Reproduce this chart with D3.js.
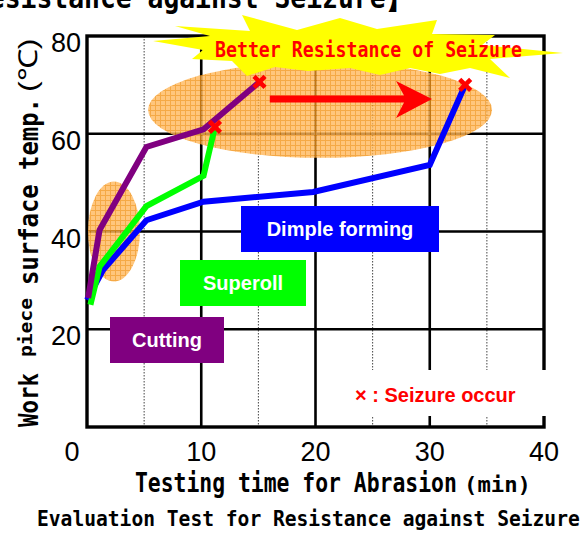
<!DOCTYPE html>
<html>
<head>
<meta charset="utf-8">
<script src="https://cdn.jsdelivr.net/npm/d3@7"></script>
<style>
  body { margin: 0; background: #fff; }
  svg { display: block; }
</style>
</head>
<body>
<div class="chart"></div>
<script>
// values
const xTicks = [0, 10, 20, 30, 40];
const yTicks = [20, 40, 60, 80];
const xMinor = [5, 15, 25, 35];

const cuttingTime = [0.1, 1.1, 5.2, 10.2, 15.1];
const cuttingTemp = [26.4, 40.3, 57.3, 60.9, 70.6];
const superollTime = [0.3, 1.1, 5.2, 10.2, 11.2];
const superollTemp = [25.0, 32.8, 45.2, 51.4, 61.4];
const dimpleTime = [0, 1.4, 5.2, 10.2, 19.8, 30.0, 33.1];
const dimpleTemp = [26.0, 32.1, 42.3, 46.1, 48.1, 53.6, 70.0];

const seriesNames = ["Dimple forming", "Superoll", "Cutting"];
const seriesColors = ["#0000ff", "#00ff00", "#800080"];

const width = 586, height = 533;
const svg = d3.select('.chart').append('svg')
  .attr('width', width).attr('height', height);

const x = d3.scaleLinear().domain([0, 40]).range([87, 544]);
const y = d3.scaleLinear().domain([0, 80]).range([427, 36]);

const mono = "'DejaVu Sans Mono', 'Liberation Mono', monospace";
const sans = "'Liberation Sans', Arial, sans-serif";

// narrow gothic-like text: squeeze a text horizontally to a given width
function fitText(parent, str, tx, ty, target, font, weight, size, fill) {
  const t = parent.append('text')
    .attr('font-family', font).attr('font-weight', weight).attr('font-size', size)
    .attr('fill', fill || '#000')
    .text(str);
  const w = t.node().getComputedTextLength();
  t.attr('transform', `translate(${tx},${ty}) scale(${target / w},1)`);
  return t;
}

// pattern for the highlighted areas
const defs = svg.append('defs');
const pat = defs.append('pattern').attr('id', 'hatch')
  .attr('width', 5).attr('height', 5).attr('patternUnits', 'userSpaceOnUse');
pat.append('rect').attr('width', 5).attr('height', 5).attr('fill', '#ffb85c');
pat.append('path').attr('d', 'M0,0.5H5M0.5,0V5').attr('stroke', '#f29418').attr('stroke-width', 1);

// top title, cut by the page edge
fitText(svg, 'Resistance against Seizure】', -27, 8, 439, mono, 'bold', 31);

// grid
const grid = svg.append('g');
grid.selectAll('.minor').data(xMinor).enter().append('line')
  .attr('x1', d => x(d)).attr('x2', d => x(d))
  .attr('y1', y(80)).attr('y2', y(0))
  .attr('stroke', '#444').attr('stroke-width', 1).attr('stroke-dasharray', '1.5,1.5');
grid.selectAll('.vx').data(xTicks.slice(1, -1)).enter().append('line')
  .attr('x1', d => x(d)).attr('x2', d => x(d))
  .attr('y1', y(80)).attr('y2', y(0))
  .attr('stroke', '#000').attr('stroke-width', 2.6);
grid.selectAll('.hy').data(yTicks.slice(0, -1)).enter().append('line')
  .attr('x1', x(0)).attr('x2', x(40))
  .attr('y1', d => y(d)).attr('y2', d => y(d))
  .attr('stroke', '#000').attr('stroke-width', 2.6);
grid.append('rect')
  .attr('x', x(0)).attr('y', y(80))
  .attr('width', x(40) - x(0)).attr('height', y(0) - y(80))
  .attr('fill', 'none').attr('stroke', '#000').attr('stroke-width', 3.4);

// tick labels
svg.selectAll('.xt').data(xTicks).enter().append('text')
  .attr('x', d => x(d) + (d === 0 ? -15 : 0)).attr('y', 461)
  .attr('text-anchor', 'middle')
  .attr('font-family', sans).attr('font-size', 27)
  .text(d => d);
svg.selectAll('.yt').data(yTicks).enter().append('text')
  .attr('x', 81).attr('y', d => y(d) + 16)
  .attr('text-anchor', 'end')
  .attr('font-family', sans).attr('font-size', 27)
  .text(d => d);

// highlighted areas
svg.append('ellipse')
  .attr('cx', x(20.4)).attr('cy', y(64.9)).attr('rx', 172).attr('ry', 48)
  .attr('fill', 'url(#hatch)').attr('opacity', 0.8);
svg.append('ellipse')
  .attr('cx', x(2.36)).attr('cy', y(40)).attr('rx', 26).attr('ry', 50)
  .attr('fill', 'url(#hatch)').attr('opacity', 0.8);

// yellow burst
const burst = [[153,41],[210,36],[175,26],[250,31],[242,15],[297,30],[340,18],[377,29],[437,20],
  [432,34],[495,35],[482,45],[563,53],[490,59],[510,78],[470,68],[440,74],[410,68],[380,75],
  [350,68],[308,71],[275,67],[247,76],[232,61],[192,59],[203,50]];
svg.append('polygon')
  .attr('points', burst.map(p => p.join(',')).join(' '))
  .attr('fill', '#ffff00');
fitText(svg, 'Better Resistance of Seizure', 215, 57, 307, mono, 'bold', 22, '#ff0000');

// red arrow
const ay = y(67.1), ax0 = x(16), ax1 = x(30.2);
svg.append('polygon')
  .attr('points', [[ax0, ay - 3.5], [ax1 - 28, ay - 3.5], [ax1 - 36, ay - 18], [ax1, ay],
    [ax1 - 36, ay + 19], [ax1 - 28, ay + 3.5], [ax0, ay + 3.5]].map(p => p.join(',')).join(' '))
  .attr('fill', '#ff0000');

// labels
const labels = [
  { name: seriesNames[0], color: seriesColors[0], x0: 241, x1: 439, y0: 206, y1: 252 },
  { name: seriesNames[1], color: seriesColors[1], x0: 180, x1: 306, y0: 260, y1: 306 },
  { name: seriesNames[2], color: seriesColors[2], x0: 110, x1: 224, y0: 317, y1: 363 }
];
labels.forEach(l => {
  svg.append('rect').attr('x', l.x0).attr('y', l.y0)
    .attr('width', l.x1 - l.x0).attr('height', l.y1 - l.y0).attr('fill', l.color);
  svg.append('text').attr('x', (l.x0 + l.x1) / 2).attr('y', (l.y0 + l.y1) / 2 + 7)
    .attr('text-anchor', 'middle')
    .attr('font-family', sans).attr('font-weight', 'bold').attr('font-size', 20)
    .attr('fill', '#fff').text(l.name);
});
svg.append('rect').attr('x', 317).attr('y', 370).attr('width', 230).attr('height', 46).attr('fill', '#fff');
svg.append('text').attr('x', 355).attr('y', 402)
  .attr('font-family', sans).attr('font-weight', 'bold').attr('font-size', 20)
  .attr('fill', '#ff0000').text('× : Seizure occur');

// lines
const line = d3.line().x(d => x(d[0])).y(d => y(d[1]));
const series = [
  d3.zip(dimpleTime, dimpleTemp),
  d3.zip(superollTime, superollTemp),
  d3.zip(cuttingTime, cuttingTemp)
];
svg.selectAll('.series').data(series).enter().append('path')
  .attr('d', line)
  .attr('fill', 'none')
  .attr('stroke', (d, i) => seriesColors[i])
  .attr('stroke-width', 6)
  .attr('stroke-linejoin', 'miter');

// seizure marks at the end of each line
const ends = series.map(s => s[s.length - 1]);
svg.selectAll('.mark').data(ends).enter().append('path')
  .attr('d', d => {
    const cx = x(d[0]), cy = y(d[1]), r = 5.5;
    return `M${cx - r},${cy - r}L${cx + r},${cy + r}M${cx - r},${cy + r}L${cx + r},${cy - r}`;
  })
  .attr('stroke', '#ff0000').attr('stroke-width', 4.5);

// y axis title
const yt = svg.append('g').attr('transform', 'rotate(-90)');
const ySegs = [
  { t: 'Work', y0: 427, y1: 373, base: 38, size: 27, f: mono, w: 'bold' },
  { t: 'piece', y0: 357, y1: 298, base: 32, size: 17, f: mono, w: 'bold' },
  { t: 'surface temp.', y0: 285, y1: 98, base: 38, size: 27, f: mono, w: 'bold' },
  { t: '(℃)', y0: 92, y1: 38, base: 37, size: 26, f: sans, w: 'normal' }
];
ySegs.forEach(s => fitText(yt, s.t, -s.y0, s.base, s.y0 - s.y1, s.f, s.w, s.size));

// x axis title
fitText(svg, 'Testing time for Abrasion', 135, 492, 322, mono, 'bold', 26);
fitText(svg, '(min)', 464, 492, 67, mono, 'bold', 22);

// caption
fitText(svg, 'Evaluation Test for Resistance against Seizure', 37, 526, 543, mono, 'bold', 22);
</script>
</body>
</html>
